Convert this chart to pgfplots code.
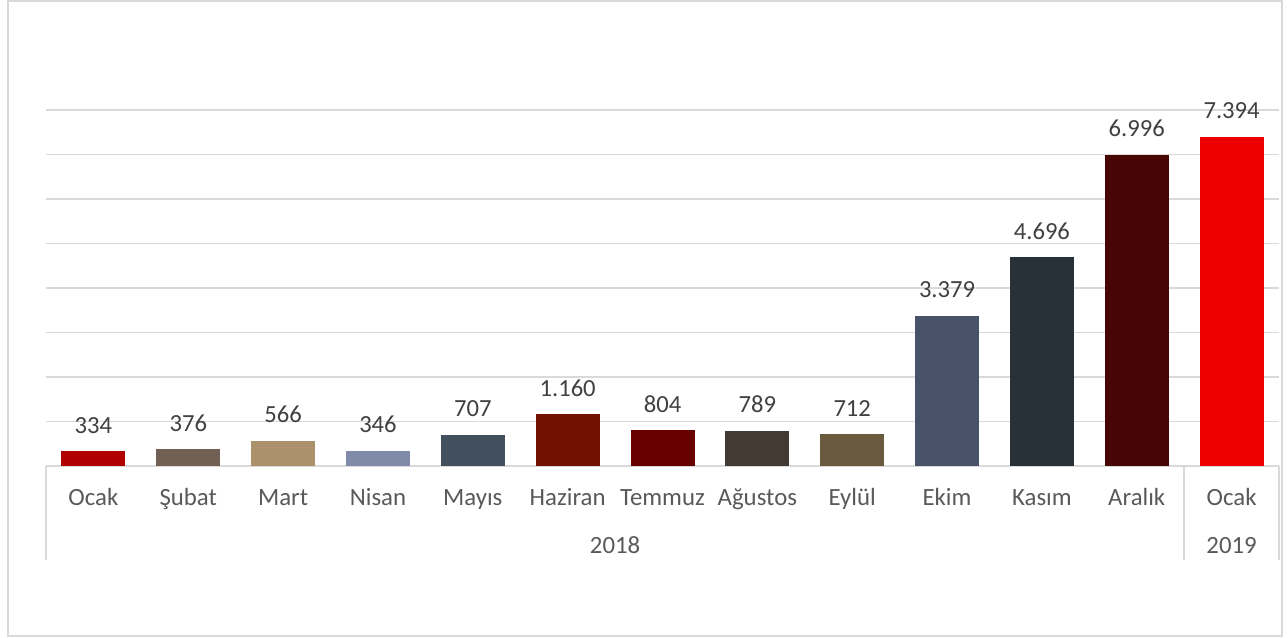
\documentclass[border=0pt]{standalone}
\usepackage{pgfplots}
\pgfplotsset{compat=1.18}
\usepackage{fontspec}
\setmainfont{Carlito}
\definecolor{gridc}{HTML}{D9D9D9}
\definecolor{txt}{HTML}{595959}
\definecolor{lbl}{HTML}{404040}
\definecolor{c1}{HTML}{B00000}
\definecolor{c2}{HTML}{736054}
\definecolor{c3}{HTML}{AB926C}
\definecolor{c4}{HTML}{7F8BA8}
\definecolor{c5}{HTML}{42505E}
\definecolor{c6}{HTML}{731000}
\definecolor{c7}{HTML}{690000}
\definecolor{c8}{HTML}{443A34}
\definecolor{c9}{HTML}{6B5B3E}
\definecolor{c10}{HTML}{485269}
\definecolor{c11}{HTML}{283038}
\definecolor{c12}{HTML}{470603}
\definecolor{c13}{HTML}{EE0000}
\begin{document}
\begin{tikzpicture}
\useasboundingbox (0,0) rectangle (644pt,318.5pt);
\draw[gridc, line width=0.8pt] (4pt,0.5pt) rectangle (641pt,318pt);
\begin{axis}[
  at={(23pt,85.5pt)}, anchor=south west,
  scale only axis, width=616.5pt, height=178pt,
  xmin=-0.5, xmax=12.5, ymin=0, ymax=8000,
  ybar, bar width=32pt, bar shift=0pt,
  clip=false,
  axis line style={draw=none},
  ytick={0,1000,...,8000}, yticklabels={},
  ymajorgrids, grid style={gridc, line width=0.75pt},
  major tick length=0pt,
  xtick={0,...,12},
  xticklabels={Ocak,Şubat,Mart,Nisan,Mayıs,Haziran,Temmuz,Ağustos,Eylül,Ekim,Kasım,Aralık,Ocak},
  xticklabel style={font=\fontsize{12.4}{14}\selectfont, text=txt, anchor=base, yshift=-19.5pt},
  /pgf/number format/.cd, 1000 sep={.}, fixed, assume math mode=true,
  /pgfplots/.cd,
  nodes near coords,
  nodes near coords style={font=\fontsize{12.3}{14}\selectfont, text=lbl, anchor=base, yshift=9pt},
  every axis plot/.append style={draw=none},
]
\addplot[fill=c1] coordinates {(0,334)};
\addplot[fill=c2] coordinates {(1,376)};
\addplot[fill=c3] coordinates {(2,566)};
\addplot[fill=c4] coordinates {(3,346)};
\addplot[fill=c5] coordinates {(4,707)};
\addplot[fill=c6] coordinates {(5,1160)};
\addplot[fill=c7] coordinates {(6,804)};
\addplot[fill=c8] coordinates {(7,789)};
\addplot[fill=c9] coordinates {(8,712)};
\addplot[fill=c10] coordinates {(9,3379)};
\addplot[fill=c11] coordinates {(10,4696)};
\addplot[fill=c12] coordinates {(11,6996)};
\addplot[fill=c13] coordinates {(12,7394)};
\draw[gridc, line width=0.75pt] (axis cs:-0.5,0) -- ([yshift=-47pt]axis cs:-0.5,0);
\draw[gridc, line width=0.75pt] (axis cs:11.5,0) -- ([yshift=-47pt]axis cs:11.5,0);
\draw[gridc, line width=0.75pt] (axis cs:12.5,0) -- ([yshift=-47pt]axis cs:12.5,0);
\node[font=\fontsize{12.4}{14}\selectfont, text=txt, anchor=base] at ([yshift=-43.5pt]axis cs:5.5,0) {2018};
\node[font=\fontsize{12.4}{14}\selectfont, text=txt, anchor=base] at ([yshift=-43.5pt]axis cs:12,0) {2019};
\end{axis}
\end{tikzpicture}
\end{document}
